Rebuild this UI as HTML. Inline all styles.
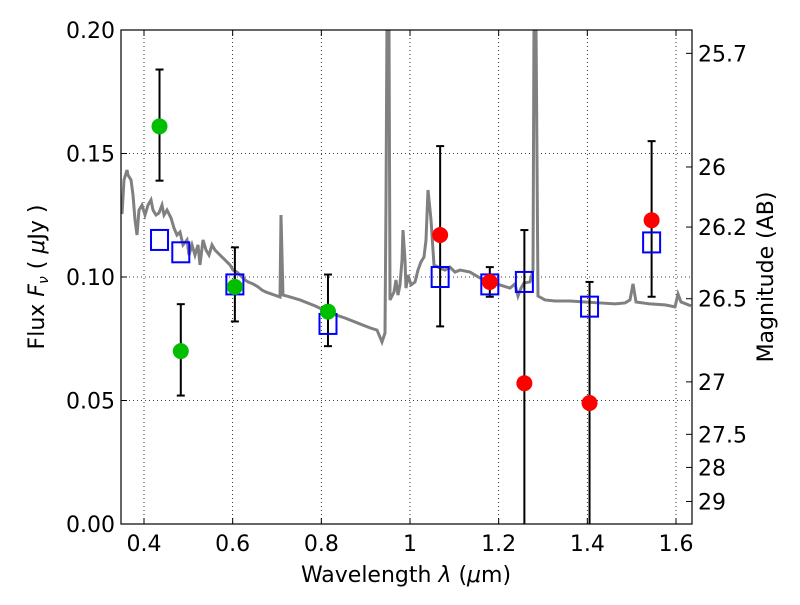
<!DOCTYPE html>
<html><head><meta charset="utf-8"><style>
body{margin:0;background:#fff;}
svg text{font-family:"DejaVu Sans","Liberation Sans",sans-serif;fill:#000;}
</style></head><body>
<svg id="c" width="800" height="600"></svg>
<script>
const xTicks=[0.4,0.6,0.8,1.0,1.2,1.4,1.6];
const xTickLabels=["0.4","0.6","0.8","1","1.2","1.4","1.6"];
const yTicks=[0,0.05,0.1,0.15,0.2];
const yTickLabels=["0.00","0.05","0.10","0.15","0.20"];
const magTicks=[25.7,26,26.2,26.5,27,27.5,28,29];
const magLabels=["25.7","26","26.2","26.5","27","27.5","28","29"];
const greenX=[0.435,0.483,0.605,0.815];
const greenY=[0.161,0.070,0.096,0.086];
const greenHi=[0.184,0.089,0.112,0.101];
const greenLo=[0.139,0.052,0.082,0.072];
const redX=[1.068,1.18,1.258,1.405,1.545];
const redY=[0.117,0.098,0.057,0.049,0.123];
const redHi=[0.153,0.104,0.119,0.098,0.155];
const redLo=[0.080,0.092,-0.01,-0.01,0.092];
const modelX=[0.435,0.483,0.605,0.815,1.068,1.18,1.258,1.405,1.545];
const modelY=[0.115,0.110,0.097,0.081,0.100,0.097,0.098,0.088,0.114];
const specPx=[[122,214],[124,180],[127,170],[128,175],[131,180],[133,195],[135,220],[137,235],[139,210],[142,205],[145,215],[148,205],[151,200],[153,210],[156,215],[159,213],[162,205],[164,215],[167,210],[171,218],[174,228],[177,235],[180,232],[183,245],[187,240],[189,255],[192,245],[195,255],[198,245],[200,265],[203,240],[206,250],[209,255],[212,245],[215,250],[220,255],[225,260],[230,265],[233,270],[237,272],[240,275],[245,280],[248,282],[253,284],[258,287],[262,290],[266,292],[280,297],[281,215],[283,295],[287,296],[300,300],[315,306],[330,313],[345,318],[360,324],[370,328],[377,330],[382,342],[385,333],[386,200],[387,20],[389,20],[390,300],[394,292],[396,280],[398,295],[400,285],[402,260],[403,230],[405,260],[406,288],[408,275],[411,285],[415,282],[418,270],[421,262],[424,257],[426,240],[428,190],[431,220],[434,265],[440,268],[445,270],[450,267],[455,272],[460,270],[470,272],[480,278],[490,281],[500,285],[510,288],[515,284],[518,296],[521,288],[524,283],[530,282],[533,270],[534,20],[536,20],[538,296],[545,300],[555,301],[570,301],[585,302],[600,303],[615,304],[625,303],[630,300],[633,284],[636,302],[650,304],[665,305],[675,307],[678,294],[681,302],[691,306]];
const specX=specPx.map(p=>+(0.4+(p[0]-144)/443.33).toFixed(4));
const specY=specPx.map(p=>+((524-p[1])/2470).toFixed(4));

const L=121,R=692,T=30,B=524;
const FS=22;
const sx=v=>144+(v-0.4)*443.33;
const sy=v=>B-v*2470;
const NS="http://www.w3.org/2000/svg";
const svg=document.getElementById('c');
function el(t,a,p){const e=document.createElementNS(NS,t);for(const k in a)e.setAttribute(k,a[k]);(p||svg).appendChild(e);return e;}
const defs=el('defs',{});const cp=el('clipPath',{id:'clip'},defs);el('rect',{x:L,y:T,width:R-L,height:B-T},cp);
xTicks.forEach((v,i)=>{const g=el('line',{x1:sx(v),x2:sx(v),y1:T,y2:B,stroke:'#000','stroke-width':0.8,'stroke-dasharray':'1,3'});


el('line',{x1:sx(v),x2:sx(v),y1:B,y2:B-6,stroke:'#000'});el('line',{x1:sx(v),x2:sx(v),y1:T,y2:T+6,stroke:'#000'});
const t=el('text',{x:sx(v),y:B+27,'text-anchor':'middle','font-size':FS});t.textContent=xTickLabels[i];

});
yTicks.forEach((v,i)=>{const g=el('line',{x1:L,x2:R,y1:sy(v),y2:sy(v),stroke:'#000','stroke-width':0.8,'stroke-dasharray':'1,3'});


el('line',{x1:L,x2:L+6,y1:sy(v),y2:sy(v),stroke:'#000'});
const t=el('text',{x:L-6,y:sy(v)+8,'text-anchor':'end','font-size':FS});t.textContent=yTickLabels[i];

});
magTicks.forEach((m,i)=>{const f=Math.pow(10,(23.9-m)/2.5);const y=sy(f);
el('line',{x1:R,x2:R-6,y1:y,y2:y,stroke:'#000'});
const t=el('text',{x:R+6,y:y+8,'font-size':FS});t.textContent=magLabels[i];

});
const sp=el('polyline',{points:specX.map((x,i)=>sx(x)+','+sy(specY[i])).join(' '),fill:'none',stroke:'#808080','stroke-width':3,'clip-path':'url(#clip)'});


function errs(X,Y,H,Lo,name){X.forEach((x,i)=>{const g=el('g',{'clip-path':'url(#clip)'});


el('line',{x1:sx(x),x2:sx(x),y1:sy(H[i]),y2:sy(Lo[i]),stroke:'#000','stroke-width':2},g);
el('line',{x1:sx(x)-4,x2:sx(x)+4,y1:sy(H[i]),y2:sy(H[i]),stroke:'#000','stroke-width':2},g);
el('line',{x1:sx(x)-4,x2:sx(x)+4,y1:sy(Lo[i]),y2:sy(Lo[i]),stroke:'#000','stroke-width':2},g);});}
errs(greenX,greenY,greenHi,greenLo,'green');
errs(redX,redY,redHi,redLo,'red');
modelX.forEach((x,i)=>{const r=el('rect',{x:sx(x)-8.5,y:sy(modelY[i])-10,width:17,height:20,fill:'none',stroke:'#00f','stroke-width':2});

});
greenX.forEach((x,i)=>{const c=el('circle',{cx:sx(x),cy:sy(greenY[i]),r:8,fill:'#00bf00'});

});
redX.forEach((x,i)=>{const c=el('circle',{cx:sx(x),cy:sy(redY[i]),r:8,fill:'#f00'});

});
const fr=el('rect',{x:L,y:T,width:R-L,height:B-T,fill:'none',stroke:'#000','stroke-width':1.2});


let t=el('text',{x:406,y:582,'text-anchor':'middle','font-size':FS});t.innerHTML='Wavelength  <tspan font-style="italic">λ</tspan> (<tspan font-style="italic">μ</tspan>m)';


t=el('text',{x:0,y:0,'text-anchor':'middle','font-size':FS,transform:'translate(44,277) rotate(-90)'});t.innerHTML='Flux  <tspan font-style="italic">F<tspan font-size="14" dy="4">ν</tspan></tspan><tspan dy="-4">  (  <tspan font-style="italic">μ</tspan>Jy )</tspan>';


t=el('text',{x:0,y:0,'text-anchor':'middle','font-size':FS,transform:'translate(773,277) rotate(-90)'});t.textContent='Magnitude (AB)';


</script>
</body></html>
